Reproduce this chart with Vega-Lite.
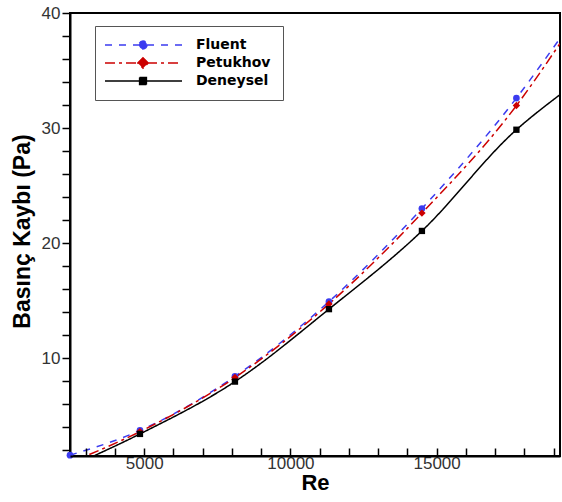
{
  "$schema": "https://vega.github.io/schema/vega-lite/v6.json",
  "width": 490,
  "height": 443,
  "autosize": {"type": "none"},
  "padding": {"left": 70, "top": 13, "right": 2, "bottom": 46},
  "background": "white",
  "config": {
    "view": {"stroke": "black", "strokeWidth": 2},
    "axis": {
      "domainColor": "black", "domainWidth": 2, "grid": false,
      "labelFont": "Liberation Sans", "labelFontSize": 17, "labelColor": "#333",
      "titleFont": "Liberation Sans", "titleFontSize": 22, "titleFontWeight": "bold", "titleColor": "black",
      "labelFlush": false
    }
  },
  "data": {"values": [
    {"Re": 2460, "P": 1.55, "series": "Fluent", "marker": true},
    {"Re": 4853, "P": 3.7, "series": "Fluent", "marker": true},
    {"Re": 8102, "P": 8.4, "series": "Fluent", "marker": true},
    {"Re": 11317, "P": 14.9, "series": "Fluent", "marker": true},
    {"Re": 14497, "P": 23.0, "series": "Fluent", "marker": true},
    {"Re": 17729, "P": 32.6, "series": "Fluent", "marker": true},
    {"Re": 19220, "P": 37.8, "series": "Fluent", "marker": false},
    {"Re": 2460, "P": 0.9, "series": "Petukhov", "marker": false},
    {"Re": 4853, "P": 3.6, "series": "Petukhov", "marker": true},
    {"Re": 8102, "P": 8.3, "series": "Petukhov", "marker": true},
    {"Re": 11317, "P": 14.7, "series": "Petukhov", "marker": true},
    {"Re": 14497, "P": 22.6, "series": "Petukhov", "marker": true},
    {"Re": 17729, "P": 31.95, "series": "Petukhov", "marker": true},
    {"Re": 19220, "P": 37.35, "series": "Petukhov", "marker": false},
    {"Re": 2460, "P": 0.55, "series": "Deneysel", "marker": false},
    {"Re": 4853, "P": 3.4, "series": "Deneysel", "marker": true},
    {"Re": 8102, "P": 7.95, "series": "Deneysel", "marker": true},
    {"Re": 11317, "P": 14.25, "series": "Deneysel", "marker": true},
    {"Re": 14497, "P": 21.05, "series": "Deneysel", "marker": true},
    {"Re": 17729, "P": 29.85, "series": "Deneysel", "marker": true},
    {"Re": 19220, "P": 32.9, "series": "Deneysel", "marker": false}
  ]},
  "encoding": {
    "x": {
      "field": "Re", "type": "quantitative", "title": "Re",
      "scale": {"domain": [2460, 19220], "nice": false, "zero": false},
      "axis": {
        "values": [3000, 4000, 5000, 6000, 7000, 8000, 9000, 10000, 11000, 12000, 13000, 14000, 15000, 16000, 17000, 18000, 19000],
        "labelExpr": "datum.value % 5000 === 0 ? format(datum.value, 'd') : ''",
        "ticks": true, "tickColor": "black", "tickWidth": 1.5, "tickSize": -8,
        "labelPadding": 7, "titlePadding": 1, "zindex": 1
      }
    },
    "y": {
      "field": "P", "type": "quantitative", "title": "Basınç Kaybı (Pa)",
      "scale": {"domain": [1.48, 40], "nice": false, "zero": false},
      "axis": {
        "values": [2, 4, 6, 8, 10, 12, 14, 16, 18, 20, 22, 24, 26, 28, 30, 32, 34, 36, 38, 40],
        "labelExpr": "datum.value % 10 === 0 ? format(datum.value, 'd') : ''",
        "ticks": true, "tickColor": "black", "tickWidth": 1.5, "tickSize": 8,
        "labelPadding": 2, "titlePadding": 7, "titleFontSize": 23, "titleY": 218
      }
    }
  },
  "layer": [
    {
      "mark": {"type": "line", "strokeWidth": 1.5, "clip": true, "interpolate": "monotone"},
      "encoding": {
        "color": {
          "field": "series", "type": "nominal",
          "scale": {"domain": ["Fluent", "Petukhov", "Deneysel"], "range": ["#3b3bf0", "#cc0000", "#000000"]},
          "legend": {
            "orient": "none", "legendX": 25, "legendY": 13, "title": null,
            "strokeColor": "#555", "fillColor": "white", "padding": 12,
            "labelFont": "DejaVu Sans", "labelFontSize": 14, "labelFontWeight": "bold", "labelColor": "black",
            "symbolSize": 64, "labelOffset": 75, "rowPadding": 2,
            "encode": {
              "symbols": {"update": {
                "shape": {"signal": "datum.value === 'Fluent' ? 'M-2.25,0H17 M8.25,0A1,1,0,1,1,6.25,0A1,1,0,1,1,8.25,0Z' : datum.value === 'Petukhov' ? 'M-2.25,0H17 M7.25,-1.3L8.55,0L7.25,1.3L5.95,0Z' : 'M-2.25,0H17 M6.4,-0.9H8.1V0.9H6.4Z'"},
                "strokeDash": {"signal": "datum.value === 'Fluent' ? [6,6] : datum.value === 'Petukhov' ? [10,4,3,4] : [1,0]"},
                "stroke": {"signal": "datum.value === 'Fluent' ? '#3b3bf0' : datum.value === 'Petukhov' ? '#cc0000' : '#000000'"},
                "fill": {"signal": "datum.value === 'Fluent' ? '#3b3bf0' : datum.value === 'Petukhov' ? '#cc0000' : '#000000'"},
                "strokeWidth": {"value": 1.5},
                "size": {"value": 64},
                "opacity": {"value": 1}
              }}
            }
          }
        },
        "strokeDash": {
          "field": "series", "type": "nominal", "legend": null,
          "scale": {"domain": ["Fluent", "Petukhov", "Deneysel"], "range": [[7, 7], [10, 4, 3, 4], [1, 0]]}
        }
      }
    },
    {
      "transform": [{"filter": "datum.marker && datum.series === 'Fluent'"}],
      "mark": {"type": "point", "filled": true, "opacity": 1, "size": 45, "shape": "circle", "color": "#3b3bf0"}
    },
    {
      "transform": [{"filter": "datum.marker && datum.series === 'Petukhov'"}],
      "mark": {"type": "point", "filled": true, "opacity": 1, "size": 55, "shape": "diamond", "color": "#cc0000"}
    },
    {
      "transform": [{"filter": "datum.marker && datum.series === 'Deneysel'"}],
      "mark": {"type": "point", "filled": true, "opacity": 1, "size": 40, "shape": "square", "color": "#000000"}
    }
  ]
}
